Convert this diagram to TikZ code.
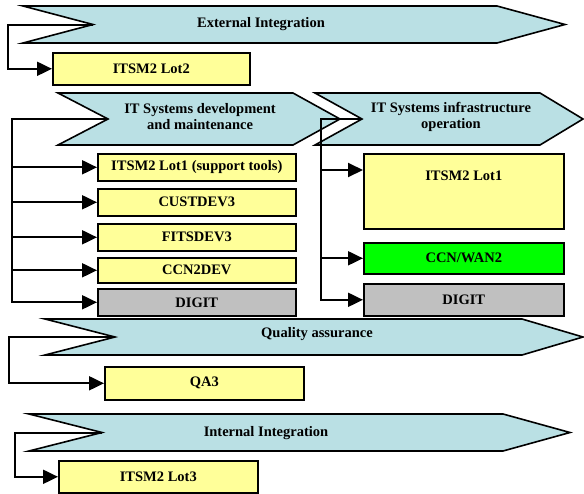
\documentclass[tikz,border=0pt]{standalone}
\usepackage{fontspec}
\setmainfont{Liberation Serif}
\usetikzlibrary{arrows.meta}
\definecolor{phaseblue}{RGB}{186,224,228}
\definecolor{lotyellow}{RGB}{255,255,153}
\definecolor{lotgrey}{RGB}{192,192,192}
\definecolor{lotgreen}{RGB}{0,255,0}

\begin{document}
\begin{tikzpicture}[x=1pt,y=-1pt,
  phase/.style={draw,line width=1.6pt,fill=phaseblue,line join=miter},
  phasetext/.style={font=\fontsize{14.5}{16}\selectfont\bfseries,align=center,inner sep=0pt},
  lot/.style={draw,line width=1.6pt,fill=lotyellow,anchor=north west,inner sep=0pt,
    font=\fontsize{14.5}{16}\selectfont\bfseries},
  feed/.style={line width=2pt,-{Triangle[length=15pt,width=14pt]}}]
\useasboundingbox (0,0) rectangle (584,493);

% The phase arrows
\draw[phase] (23,6) -- (497,6) -- (565,24.5) -- (497,43) -- (23,43) -- (93,24.5) coordinate (ext-in) -- cycle;
\node[phasetext] (ext) at (261,24.5) {External Integration};

\draw[phase] (58,93) -- (293,93) -- (340,119) -- (293,145) -- (58,145) -- (108,119) coordinate (dev-in) -- cycle;
\node[phasetext] (dev) at (200,117) {IT Systems development\\and maintenance};

\draw[phase] (315,93) -- (540,93) -- (583,119) -- (540,145) -- (315,145) -- (362,119) coordinate (infra-in) -- cycle;
\node[phasetext] (infra) at (451,117) {IT Systems infrastructure\\operation};

\draw[phase] (45,319) -- (522,319) -- (583,337) -- (522,355) -- (45,355) -- (115,337) coordinate (qa-in) -- cycle;
\node[phasetext] (qa) at (317,334) {Quality assurance};

\draw[phase] (29,414) -- (503,414) -- (570,432.5) -- (503,451) -- (29,451) -- (102,432.5) coordinate (int-in) -- cycle;
\node[phasetext] (int) at (266,433) {Internal Integration};

% The contracts
\node[lot,minimum width=197pt,minimum height=32pt] (lot2) at (52,52) {ITSM2 Lot2};

\node[lot,minimum width=198pt,minimum height=27pt] (tools) at (97,153) {ITSM2 Lot1 (support tools)};
\node[lot,minimum width=198pt,minimum height=27pt] (cust) at (97,188) {CUSTDEV3};
\node[lot,minimum width=198pt,minimum height=27pt] (fits) at (97,223) {FITSDEV3};
\node[lot,minimum width=198pt,minimum height=25pt] (ccn2) at (97,257) {CCN2DEV};
\node[lot,minimum width=198pt,minimum height=27pt,fill=lotgrey] (digit1) at (97,288) {DIGIT};

\node[lot,minimum width=200pt,minimum height=75pt,text height=10pt,text depth=31pt] (lot1) at (363,153) {ITSM2 Lot1};
\node[lot,minimum width=200pt,minimum height=31pt,fill=lotgreen] (wan2) at (363,242) {CCN/WAN2};
\node[lot,minimum width=200pt,minimum height=32pt,fill=lotgrey] (digit2) at (363,283) {DIGIT};

\node[lot,minimum width=199pt,minimum height=33pt] (qa3) at (104,366) {QA3};
\node[lot,minimum width=199pt,minimum height=32pt] (lot3) at (58,460) {ITSM2 Lot3};

% The feeds
\draw[feed] (ext-in) -- ++(-85,0) |- (lot2.west);

\draw[feed] (dev-in) -- ++(-96,0) coordinate (dev-rail) |- (digit1.west);
\foreach \lt in {tools,cust,fits,ccn2}
  \draw[feed] (dev-rail |- \lt.west) -- (\lt.west);

\draw[feed] (infra-in) -- ++(-41,0) coordinate (infra-rail) |- (digit2.west);
\draw[feed] (infra-rail |- 0,170) -- (lot1.west |- 0,170);
\draw[feed] (infra-rail |- wan2.west) -- (wan2.west);

\draw[feed] (qa-in) -- ++(-106,0) |- (qa3.west);
\draw[feed] (int-in) -- ++(-87,0) |- (lot3.west);

\end{tikzpicture}
\end{document}
